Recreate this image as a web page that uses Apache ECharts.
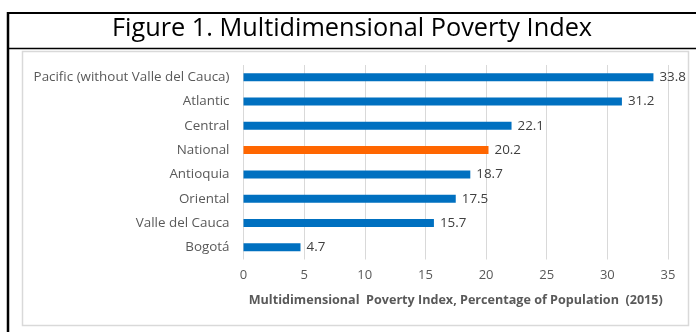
<!DOCTYPE html>
<html lang="en">
<head>
<meta charset="utf-8">
<title>Figure 1. Multidimensional Poverty Index</title>
<script src="https://cdn.jsdelivr.net/npm/echarts@6/dist/echarts.min.js"></script>
<style type="text/css">
html, body{ margin:0; padding:0; background:#fff;}
#chart{ width:696px; height:332px;}
</style>
</head>
<body>
<div id="chart"></div>
<script>
  // data
  var regions = ['Pacific (without Valle del Cauca)', 'Atlantic', 'Central', 'National', 'Antioquia', 'Oriental', 'Valle del Cauca', 'Bogotá'];
  var mpiValues = [33.8, 31.2, 22.1, 20.2, 18.7, 17.5, 15.7, 4.7];
  var highlight = 'National';
  var xTicks = [0, 5, 10, 15, 20, 25, 30, 35];

  var labelFont = '"Open Sans", "Liberation Sans", sans-serif';

  var barData = mpiValues.map(function(v, i){
    return {
      value: v,
      itemStyle: { color: regions[i] === highlight ? '#ff6600' : '#0070c0' }
    };
  });

  var chart = echarts.init(document.getElementById('chart'), null, {renderer: 'canvas'});
  chart.setOption({
    animation: false,
    backgroundColor: '#fff',
    grid: { left: 243.5, right: 28, top: 65, bottom: 72.5, containLabel: false },
    xAxis: {
      type: 'value',
      min: xTicks[0],
      max: xTicks[xTicks.length - 1],
      interval: 5,
      axisLine: { show: false },
      axisTick: { show: false },
      splitLine: { lineStyle: { color: '#d9d9d9', width: 1 } },
      axisLabel: { color: '#595959', fontSize: 13, fontFamily: labelFont, margin: 9 },
      name: 'Multidimensional  Poverty Index, Percentage of Population  (2015)',
      nameLocation: 'middle',
      nameGap: 34,
      nameTextStyle: { color: '#595959', fontSize: 12.6, fontWeight: 'bold', fontFamily: labelFont }
    },
    yAxis: {
      type: 'category',
      data: regions,
      inverse: true,
      axisLine: { show: false },
      axisTick: { show: false },
      axisLabel: { color: '#595959', fontSize: 13.4, fontFamily: labelFont, margin: 14 }
    },
    series: [{
      type: 'bar',
      data: barData,
      barWidth: 8,
      label: {
        show: true,
        position: 'right',
        distance: 6,
        color: '#404040',
        fontSize: 13.4,
        fontFamily: labelFont
      }
    }],
    graphic: [
      // outer table borders
      { type: 'line', shape: { x1: 7, y1: 13, x2: 696, y2: 13 }, style: { stroke: '#000', lineWidth: 2 } },
      { type: 'line', shape: { x1: 8, y1: 12, x2: 8, y2: 332 }, style: { stroke: '#000', lineWidth: 2.5 } },
      { type: 'line', shape: { x1: 8, y1: 48.5, x2: 696, y2: 48.5 }, style: { stroke: '#000', lineWidth: 1.5 } },
      // title cell
      {
        type: 'text', left: 112, top: 16,
        style: { text: 'Figure 1. Multidimensional Poverty Index', fill: '#000', fontSize: 25.3, fontFamily: labelFont }
      },
      // chart area border
      { type: 'rect', z: -1, shape: { x: 22.5, y: 51.5, width: 666, height: 274 }, style: { fill: 'none', stroke: '#d9d9d9', lineWidth: 1.5 } }
    ]
  });
</script>
</body>
</html>
